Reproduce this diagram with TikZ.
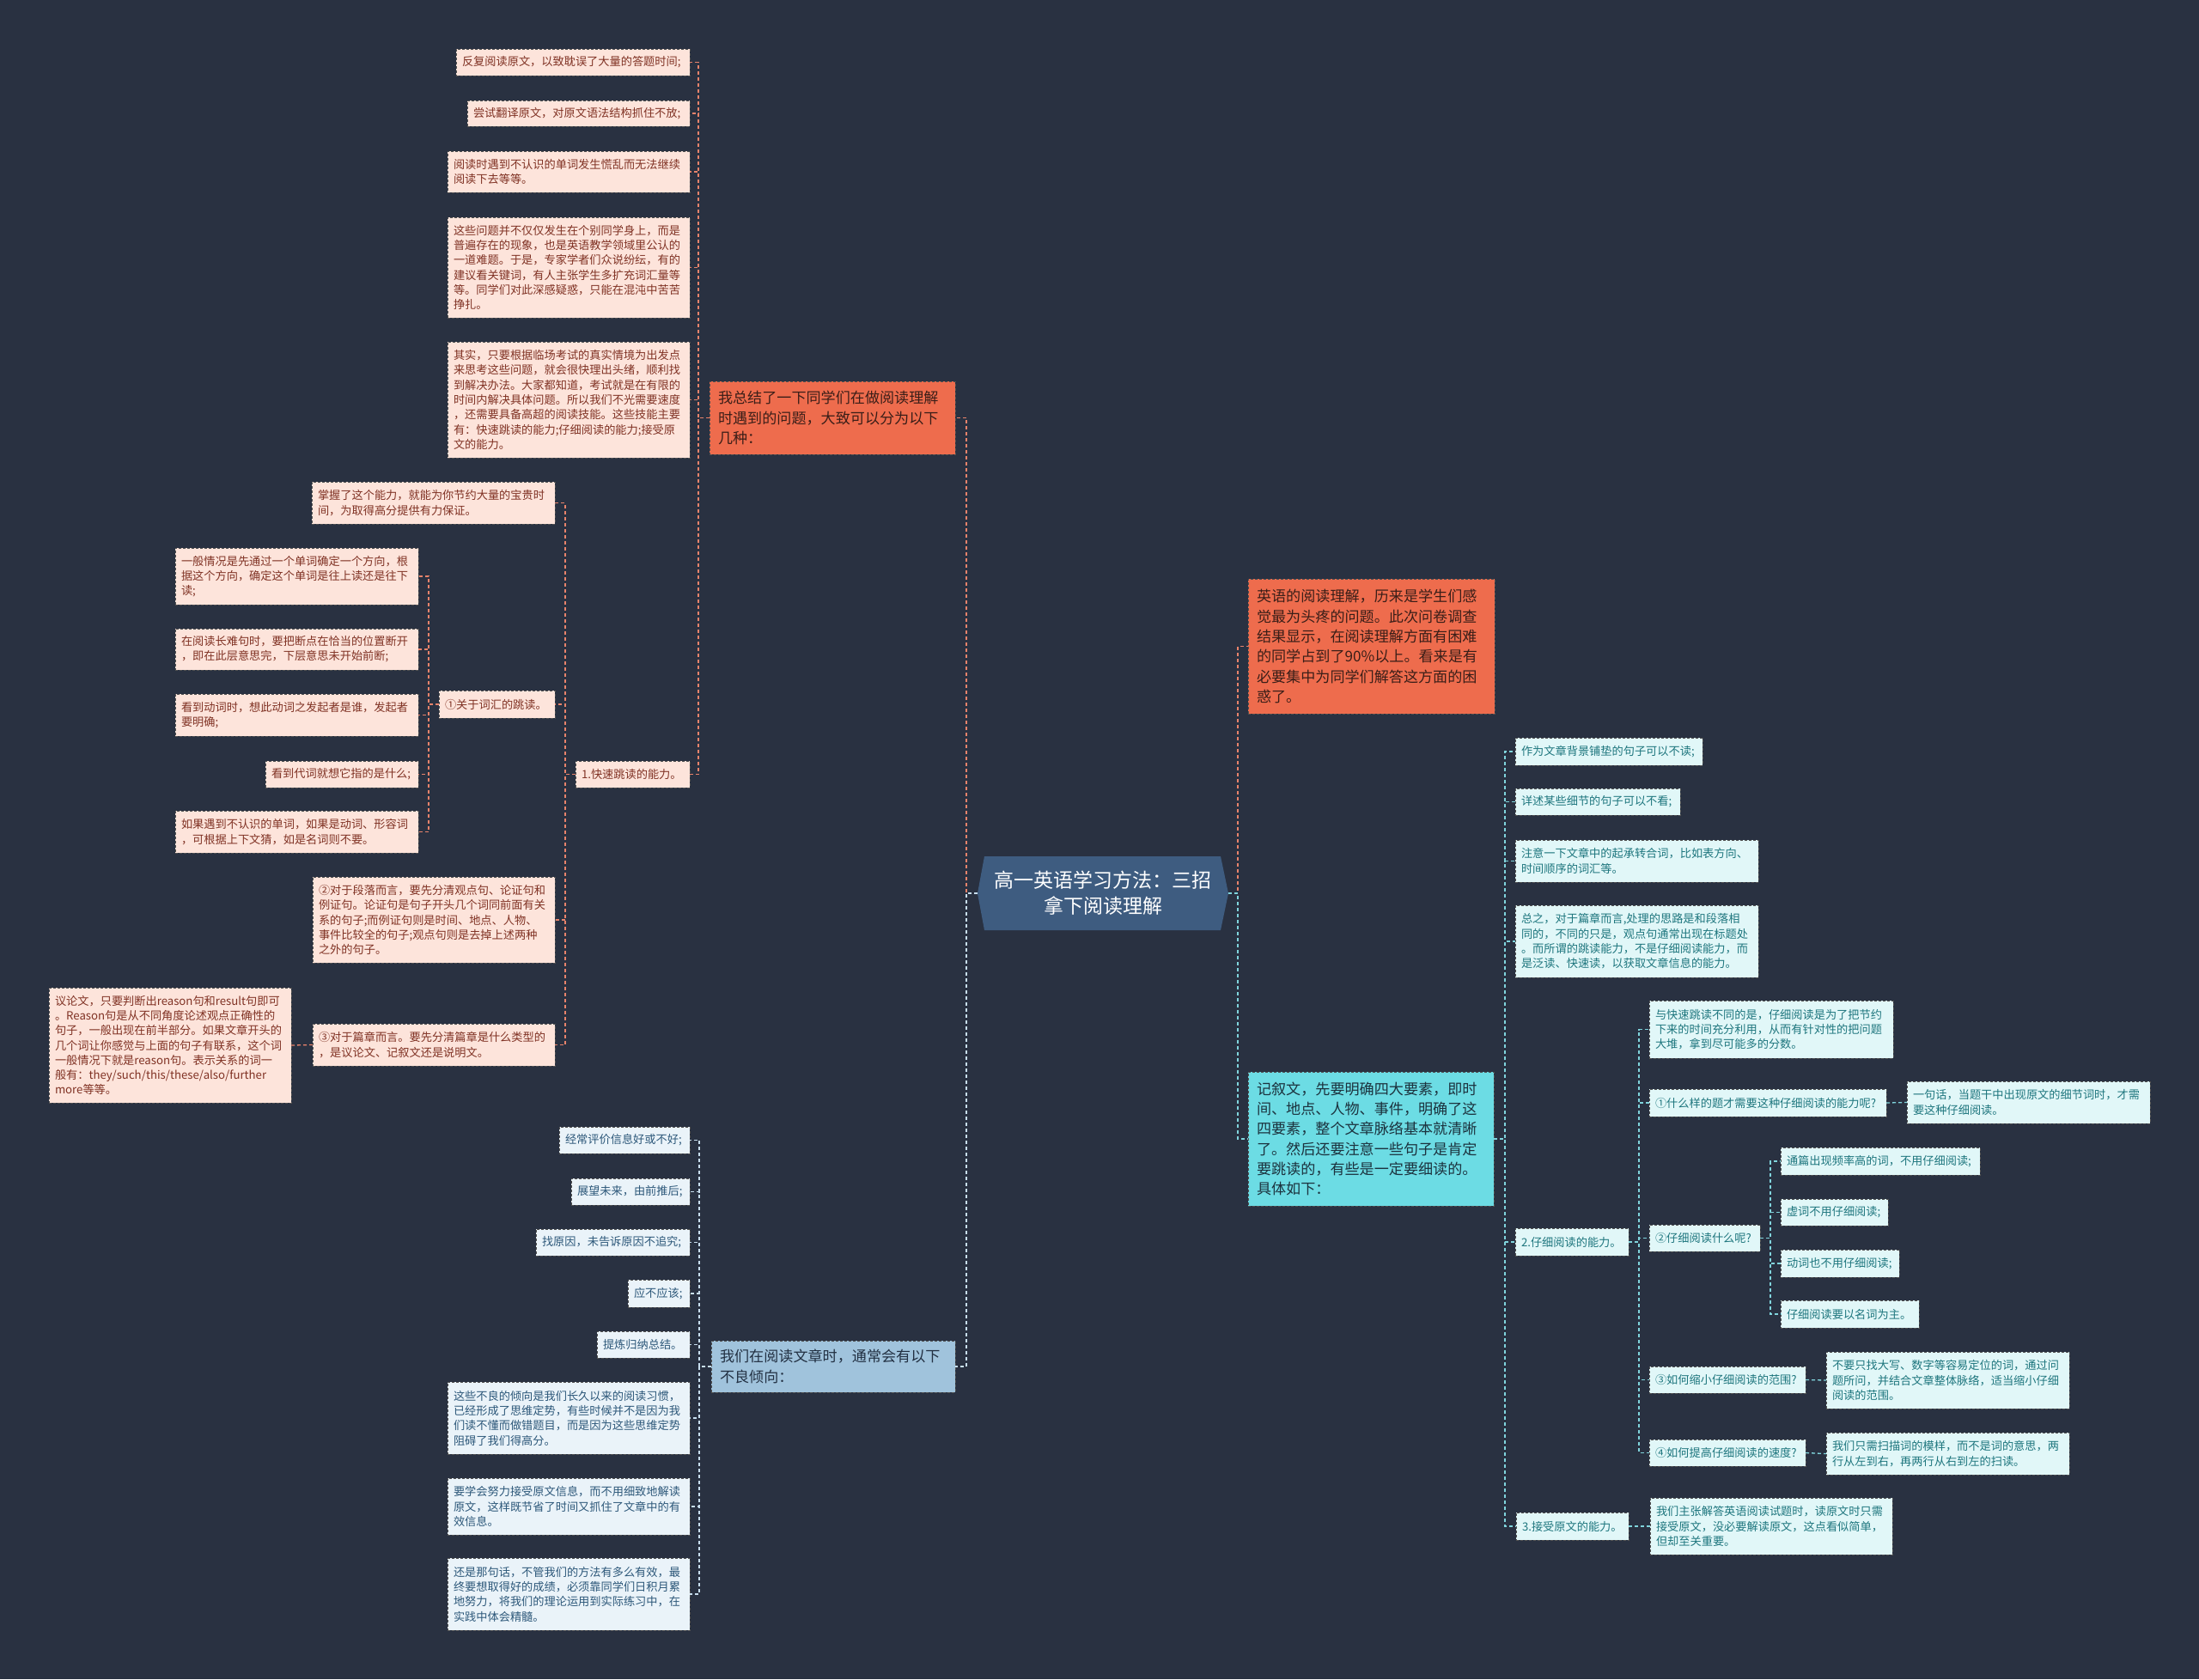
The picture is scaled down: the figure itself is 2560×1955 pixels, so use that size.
\documentclass[tikz,border=0pt]{standalone}
\usepackage{fontspec}
\setmainfont{Noto Sans CJK SC}
\definecolor{bgc}{RGB}{41,49,65}
\definecolor{pkfill}{RGB}{253,228,219}
\definecolor{pktext}{RGB}{128,50,36}
\definecolor{orfill}{RGB}{238,108,77}
\definecolor{ortext}{RGB}{58,30,24}
\definecolor{orline}{RGB}{232,131,107}
\definecolor{blfill}{RGB}{234,243,249}
\definecolor{bltext}{RGB}{45,88,122}
\definecolor{blbr}{RGB}{160,195,220}
\definecolor{bltx}{RGB}{34,48,66}
\definecolor{bline}{RGB}{200,222,238}
\definecolor{cyfill}{RGB}{225,247,248}
\definecolor{cytext}{RGB}{30,118,126}
\definecolor{cybr}{RGB}{108,220,228}
\definecolor{cytx}{RGB}{28,50,62}
\definecolor{cyline}{RGB}{128,212,220}
\definecolor{ctrfill}{RGB}{62,92,128}
\definecolor{bord}{RGB}{80,80,80}
\tikzset{
 box/.style={draw=bord, line width=0.9pt, dash pattern=on 3pt off 2pt, anchor=north west, align=left, inner ysep=3pt, outer sep=0pt},
 lf/.style={box, inner xsep=7pt, font=\fontsize{13.2}{17.3}\selectfont},
 pk/.style={lf, fill=pkfill, text=pktext},
 bl/.style={lf, fill=blfill, text=bltext},
 cy/.style={lf, fill=cyfill, text=cytext},
 br/.style={box, inner xsep=10pt, font=\fontsize{17.1}{23.3}\selectfont},
 orb/.style={br, fill=orfill, text=ortext},
 blb/.style={br, fill=blbr, text=bltx},
 cyb/.style={br, fill=cybr, text=cytx},
 con/.style={line width=1.3pt, dash pattern=on 4pt off 3pt},
 oc/.style={con, draw=orline},
 bc/.style={con, draw=bline},
 cc/.style={con, draw=cyline},
}
\newcommand\nd[7]{\node[#1, text width=#5pt, minimum height=#6pt] (#2) at (#3,#4) {#7};}
\begin{document}
\begin{tikzpicture}[x=1pt,y=-1pt]
\fill[bgc] (0,0) rectangle (2560,1955);
\useasboundingbox (0,0) rectangle (2560,1955);

% center
\fill[ctrfill] (1138,1040) -- (1146,997) -- (1421,997) -- (1430,1040) -- (1421,1083) -- (1146,1083) -- cycle;
\node[minimum width=292pt, minimum height=86pt, inner sep=0pt, outer sep=0pt, align=center, text=white, font=\fontsize{23}{30}\selectfont] (ctr) at (1284,1040) {高一英语学习方法：三招\\拿下阅读理解};

% branch 1 (orange, left)
\nd{orb}{B1}{826}{444}{266}{85}{我总结了一下同学们在做阅读理解\\时遇到的问题，大致可以分为以下\\几种：}
\nd{pk}{A1}{531}{57}{258}{31}{反复阅读原文，以致耽误了大量的答题时间;}
\nd{pk}{A2}{544}{117}{245}{30}{尝试翻译原文，对原文语法结构抓住不放;}
\nd{pk}{A3}{521}{176}{268}{48}{阅读时遇到不认识的单词发生慌乱而无法继续\\阅读下去等等。}
\nd{pk}{A4}{521}{253}{268}{117}{这些问题并不仅仅发生在个别同学身上，而是\\普遍存在的现象，也是英语教学领域里公认的\\一道难题。于是，专家学者们众说纷纭，有的\\建议看关键词，有人主张学生多扩充词汇量等\\等。同学们对此深感疑惑，只能在混沌中苦苦\\挣扎。}
\nd{pk}{A5}{521}{398}{268}{135}{其实，只要根据临场考试的真实情境为出发点\\来思考这些问题，就会很快理出头绪，顺利找\\到解决办法。大家都知道，考试就是在有限的\\时间内解决具体问题。所以我们不光需要速度\\，还需要具备高超的阅读技能。这些技能主要\\有：快速跳读的能力;仔细阅读的能力;接受原\\文的能力。}
\nd{pk}{C1}{670}{886}{119}{31}{1.快速跳读的能力。}
\nd{pk}{D1}{363}{561}{269}{49}{掌握了这个能力，就能为你节约大量的宝贵时\\间，为取得高分提供有力保证。}
\nd{pk}{D2}{511}{804}{121}{32}{①关于词汇的跳读。}
\nd{pk}{E1}{204}{638}{269}{66}{一般情况是先通过一个单词确定一个方向，根\\据这个方向，确定这个单词是往上读还是往下\\读;}
\nd{pk}{E2}{204}{732}{269}{48}{在阅读长难句时，要把断点在恰当的位置断开\\，即在此层意思完，下层意思未开始前断;}
\nd{pk}{E3}{204}{808}{269}{49}{看到动词时，想此动词之发起者是谁，发起者\\要明确;}
\nd{pk}{E4}{309}{886}{164}{31}{看到代词就想它指的是什么;}
\nd{pk}{E5}{204}{944}{269}{49}{如果遇到不认识的单词，如果是动词、形容词\\，可根据上下文猜，如是名词则不要。}
\nd{pk}{D3}{364}{1021}{268}{100}{②对于段落而言，要先分清观点句、论证句和\\例证句。论证句是句子开头几个词同前面有关\\系的句子;而例证句则是时间、地点、人物、\\事件比较全的句子;观点句则是去掉上述两种\\之外的句子。}
\nd{pk}{D4}{364}{1192}{268}{49}{③对于篇章而言。要先分清篇章是什么类型的\\，是议论文、记叙文还是说明文。}
\nd{pk}{F1}{57}{1150}{268}{134}{议论文，只要判断出reason句和result句即可\\。Reason句是从不同角度论述观点正确性的\\句子，一般出现在前半部分。如果文章开头的\\几个词让你感觉与上面的句子有联系，这个词\\一般情况下就是reason句。表示关系的词一\\般有：they/such/this/these/also/further\\more等等。}

% branch 3 (blue, left)
\nd{blb}{B3}{828}{1561}{264}{60}{我们在阅读文章时，通常会有以下\\不良倾向：}
\nd{bl}{G1}{651}{1312}{138}{31}{经常评价信息好或不好;}
\nd{bl}{G2}{665}{1372}{124}{31}{展望未来，由前推后;}
\nd{bl}{G3}{624}{1431}{165}{31}{找原因，未告诉原因不追究;}
\nd{bl}{G4}{731}{1490}{58}{32}{应不应该;}
\nd{bl}{G5}{695}{1550}{94}{31}{提炼归纳总结。}
\nd{bl}{G6}{521}{1609}{268}{84}{这些不良的倾向是我们长久以来的阅读习惯，\\已经形成了思维定势，有些时候并不是因为我\\们读不懂而做错题目，而是因为这些思维定势\\阻碍了我们得高分。}
\nd{bl}{G7}{521}{1721}{268}{66}{要学会努力接受原文信息，而不用细致地解读\\原文，这样既节省了时间又抓住了文章中的有\\效信息。}
\nd{bl}{G8}{521}{1814}{268}{84}{还是那句话，不管我们的方法有多么有效，最\\终要想取得好的成绩，必须靠同学们日积月累\\地努力，将我们的理论运用到实际练习中，在\\实践中体会精髓。}

% branch 2 (orange, right)
\nd{orb}{B2}{1453}{674}{267}{157}{英语的阅读理解，历来是学生们感\\觉最为头疼的问题。此次问卷调查\\结果显示，在阅读理解方面有困难\\的同学占到了90\%以上。看来是有\\必要集中为同学们解答这方面的困\\惑了。}

% branch 4 (cyan, right)
\nd{cyb}{B4}{1453}{1248}{266}{156}{记叙文，先要明确四大要素，即时\\间、地点、人物、事件，明确了这\\四要素，整个文章脉络基本就清晰\\了。然后还要注意一些句子是肯定\\要跳读的，有些是一定要细读的。\\具体如下：}
\nd{cy}{H1}{1764}{859}{204}{32}{作为文章背景铺垫的句子可以不读;}
\nd{cy}{H2}{1764}{918}{178}{31}{详述某些细节的句子可以不看;}
\nd{cy}{H3}{1764}{978}{269}{49}{注意一下文章中的起承转合词，比如表方向、\\时间顺序的词汇等。}
\nd{cy}{H4}{1764}{1054}{269}{84}{总之，对于篇章而言,处理的思路是和段落相\\同的，不同的只是，观点句通常出现在标题处\\。而所谓的跳读能力，不是仔细阅读能力，而\\是泛读、快速读，以获取文章信息的能力。}
\nd{cy}{H5}{1764}{1430}{118}{32}{2.仔细阅读的能力。}
\nd{cy}{H6}{1765}{1761}{117}{32}{3.接受原文的能力。}
\nd{cy}{I1}{1920}{1165}{270}{67}{与快速跳读不同的是，仔细阅读是为了把节约\\下来的时间充分利用，从而有针对性的把问题\\大堆，拿到尽可能多的分数。}
\nd{cy}{I2}{1920}{1268}{262}{32}{①什么样的题才需要这种仔细阅读的能力呢?}
\nd{cy}{J1}{2220}{1259}{269}{49}{一句话，当题干中出现原文的细节词时，才需\\要这种仔细阅读。}
\nd{cy}{I3}{1920}{1426}{115}{31}{②仔细阅读什么呢?}
\nd{cy}{K1}{2073}{1336}{218}{32}{通篇出现频率高的词，不用仔细阅读;}
\nd{cy}{K2}{2073}{1396}{111}{31}{虚词不用仔细阅读;}
\nd{cy}{K3}{2073}{1455}{124}{32}{动词也不用仔细阅读;}
\nd{cy}{K4}{2073}{1514}{147}{32}{仔细阅读要以名词为主。}
\nd{cy}{I4}{1920}{1591}{168}{31}{③如何缩小仔细阅读的范围?}
\nd{cy}{J2}{2126}{1574}{269}{66}{不要只找大写、数字等容易定位的词，通过问\\题所问，并结合文章整体脉络，适当缩小仔细\\阅读的范围。}
\nd{cy}{I5}{1920}{1676}{168}{31}{④如何提高仔细阅读的速度?}
\nd{cy}{J3}{2126}{1668}{269}{49}{我们只需扫描词的模样，而不是词的意思，两\\行从左到右，再两行从右到左的扫读。}
\nd{cy}{L1}{1921}{1744}{268}{66}{我们主张解答英语阅读试题时，读原文时只需\\接受原文，没必要解读原文，这点看似简单，\\但却至关重要。}

% connectors
\draw[oc] (ctr.west) -- ++(-13,0) |- (B1.east);
\draw[bc] (ctr.west) -- ++(-13,0) |- (B3.east);
\draw[oc] (ctr.east) -- ++(11,0) |- (B2.west);
\draw[cc] (ctr.east) -- ++(11,0) |- (B4.west);
\foreach \c in {A1,A2,A3,A4,A5,C1} \draw[oc] (B1.west) -- ++(-13,0) |- (\c.east);
\foreach \c in {D1,D2,D3,D4} \draw[oc] (C1.west) -- ++(-12,0) |- (\c.east);
\foreach \c in {E1,E2,E3,E4,E5} \draw[oc] (D2.west) -- ++(-12,0) |- (\c.east);
\draw[oc] (D4.west) -- (F1.east);
\foreach \c in {G1,G2,G3,G4,G5,G6,G7,G8} \draw[bc] (B3.west) -- ++(-14,0) |- (\c.east);
\foreach \c in {H1,H2,H3,H4,H5,H6} \draw[cc] (B4.east) -- ++(13,0) |- (\c.west);
\foreach \c in {I1,I2,I3,I4,I5} \draw[cc] (H5.east) -- ++(12,0) |- (\c.west);
\foreach \c in {K1,K2,K3,K4} \draw[cc] (I3.east) -- ++(12,0) |- (\c.west);
\draw[cc] (I2.east) -- (J1.west);
\draw[cc] (I4.east) -- (J2.west);
\draw[cc] (I5.east) -- (J3.west);
\draw[cc] (H6.east) -- (L1.west);
\end{tikzpicture}
\end{document}
